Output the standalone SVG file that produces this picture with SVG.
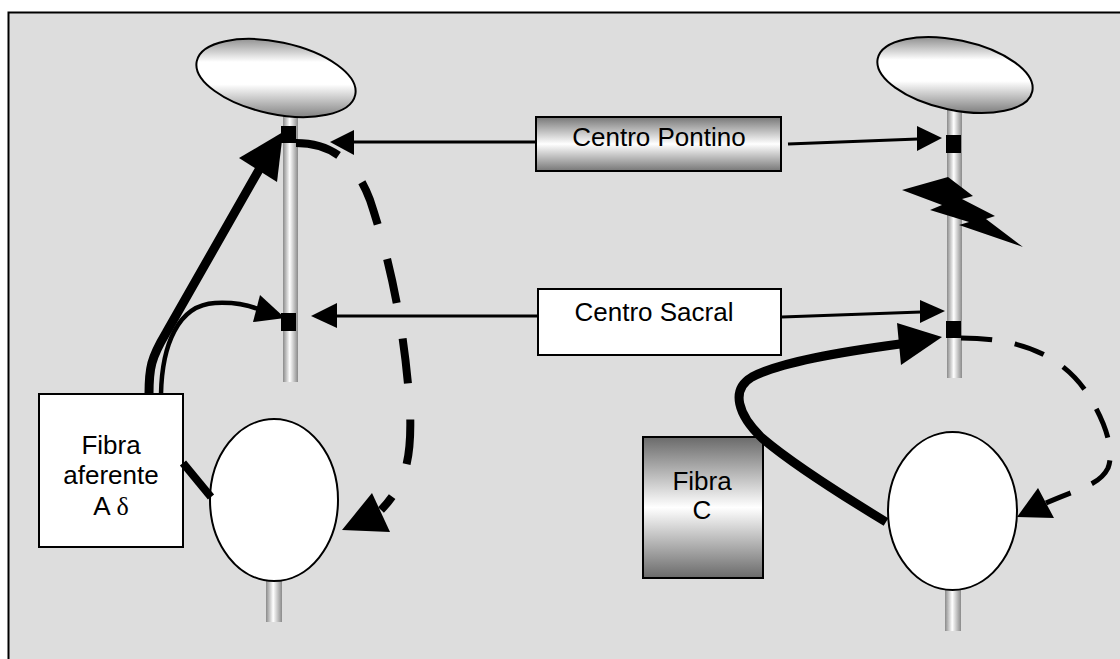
<svg xmlns="http://www.w3.org/2000/svg" width="1120" height="659" viewBox="0 0 1120 659">
<defs>
<linearGradient id="gStem" x1="0" y1="0" x2="1" y2="0">
<stop offset="0" stop-color="#8a8a8a"/><stop offset="0.45" stop-color="#ffffff"/><stop offset="1" stop-color="#8a8a8a"/>
</linearGradient>
<linearGradient id="gTopL" gradientUnits="userSpaceOnUse" x1="276" y1="38" x2="276" y2="118" gradientTransform="rotate(-12 276 78)">
<stop offset="0" stop-color="#8f8f8f"/><stop offset="0.3" stop-color="#ffffff"/><stop offset="0.58" stop-color="#ffffff"/><stop offset="1" stop-color="#7f7f7f"/>
</linearGradient>
<linearGradient id="gTopR" gradientUnits="userSpaceOnUse" x1="955" y1="37" x2="955" y2="113" gradientTransform="rotate(-12 955 75)">
<stop offset="0" stop-color="#8f8f8f"/><stop offset="0.3" stop-color="#ffffff"/><stop offset="0.58" stop-color="#ffffff"/><stop offset="1" stop-color="#7f7f7f"/>
</linearGradient>
<linearGradient id="gBoxC" x1="0" y1="0" x2="0" y2="1">
<stop offset="0" stop-color="#6a6a6a"/><stop offset="0.5" stop-color="#ffffff"/><stop offset="1" stop-color="#6a6a6a"/>
</linearGradient>
<linearGradient id="gPont" x1="0" y1="0" x2="0" y2="1">
<stop offset="0" stop-color="#777777"/><stop offset="0.5" stop-color="#ffffff"/><stop offset="1" stop-color="#777777"/>
</linearGradient>
</defs>
<style>
.txt{font-family:"Liberation Sans",Arial,sans-serif;font-size:26px;fill:#000;text-anchor:middle}
.ser{font-family:"Liberation Serif","Times New Roman",serif;font-size:26px}
.box{stroke:#000;stroke-width:2}
.stem{fill:url(#gStem)}
.soma{fill:#fff;stroke:#000;stroke-width:2}
.top{stroke:#000;stroke-width:2}
.sq{fill:#000}
.ln{fill:none;stroke:#000;stroke-width:3}
.thin{fill:none;stroke:#000;stroke-width:4.5}
.thick{fill:none;stroke:#000;stroke-width:9}
.stub{fill:none;stroke:#000;stroke-width:8}
.dashL{fill:none;stroke:#000;stroke-width:8;stroke-dasharray:45 36}
.dashR{fill:none;stroke:#000;stroke-width:5;stroke-dasharray:31 23}
.head{fill:#000}
</style>
<rect x="0" y="0" width="1120" height="659" fill="#ffffff"/>
<rect x="8.5" y="12.5" width="1130" height="660" fill="#dddddd" stroke="#000" stroke-width="2"/>

<g id="neuron-left">
<rect class="stem" x="283" y="110" width="15" height="272"/>
<rect class="stem" x="266" y="570" width="16" height="52"/>
<ellipse class="top" fill="url(#gTopL)" cx="276" cy="78" rx="81" ry="36" transform="rotate(12 276 78)"/>
<ellipse class="soma" cx="274" cy="500" rx="64" ry="81"/>
</g>

<g id="neuron-right">
<rect class="stem" x="947" y="108" width="15" height="270"/>
<rect class="stem" x="945" y="575" width="16" height="56"/>
<ellipse class="top" fill="url(#gTopR)" cx="955" cy="75" rx="79" ry="35" transform="rotate(12 955 75)"/>
<ellipse class="soma" cx="952.5" cy="511" rx="64.5" ry="79"/>
<polygon class="head" points="902,190 948,177 973,196 962,199 995,216 986,219 1023,247 959,225 969,222 930,210 942,205"/>
</g>

<g id="centro-pontino">
<rect class="box" x="536" y="117" width="245" height="54" fill="url(#gPont)"/>
<text class="txt" x="659" y="146">Centro Pontino</text>
</g>

<g id="centro-sacral">
<rect class="box" x="538" y="289" width="243" height="66" fill="#fff"/>
<text class="txt" x="654" y="321">Centro Sacral</text>
</g>

<g id="fibra-aferente">
<rect class="box" x="39" y="394" width="144" height="153" fill="#fff"/>
<text class="txt" x="111" y="454">Fibra</text>
<text class="txt" x="111" y="484">aferente</text>
<text class="txt" x="111" y="515">A <tspan class="ser">δ</tspan></text>
</g>

<g id="fibra-c">
<rect class="box" x="643" y="437" width="120" height="141" fill="url(#gBoxC)"/>
<text class="txt" x="702" y="490">Fibra</text>
<text class="txt" x="702" y="519">C</text>
</g>

<g id="connectors">
<line class="ln" x1="354" y1="142" x2="536" y2="142"/>
<polygon class="head" points="330,142 354,130 354,155"/>
<line class="ln" x1="337" y1="316" x2="538" y2="316"/>
<polygon class="head" points="311,316 337,303 337,328"/>
<line class="ln" x1="788" y1="144" x2="918" y2="139"/>
<polygon class="head" points="942,138 917,126 917,151"/>
<line class="ln" x1="782" y1="317" x2="921" y2="312"/>
<polygon class="head" points="945,311 920,300 920,323"/>

<path class="thick" d="M149,394 C149,368 151,358 166,333 L260,168"/>
<polygon class="head" points="283,132 239,158 277,182"/>
<path class="thin" d="M161,394 C162,345 178,305 215,303 C235,302 248,305 258,309"/>
<polygon class="head" points="285,318 260,295 253,322"/>
<line class="stub" x1="183" y1="463" x2="211" y2="497"/>

<path class="dashL" d="M296,143 C330,143 355,160 370,200 C390,260 405,330 410,410 C412,460 405,485 381,510"/>
<polygon class="head" points="342,530 372,493 390,532"/>

<path class="thick" d="M886,522 C840,494 790,462 762,438 C738,415 730,390 752,377 C780,362 840,352 900,344"/>
<polygon class="head" points="942,337 897,323 901,365"/>

<path class="dashR" d="M961,338 C1020,338 1060,355 1085,390 C1105,420 1115,450 1108,468 C1100,485 1080,488 1046,503"/>
<polygon class="head" points="1017,517 1038,488 1054,518"/>
</g>

<g id="synapses">
<rect class="sq" x="281" y="126" width="15" height="17"/>
<rect class="sq" x="281" y="313" width="15" height="18"/>
<rect class="sq" x="946" y="135" width="15" height="18"/>
<rect class="sq" x="946" y="321" width="15" height="17"/>
</g>
</svg>
